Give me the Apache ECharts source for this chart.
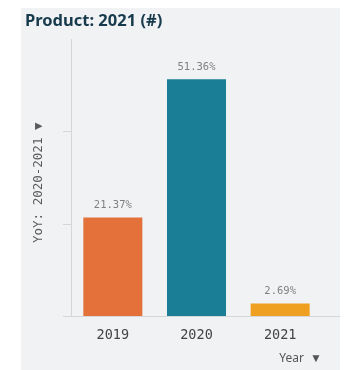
<!DOCTYPE html>
<html>
<head>
<meta charset="utf-8">
<style>
  html, body { margin: 0; padding: 0; background: #ffffff; }
  #chart { width: 345px; height: 370px; }
</style>
<script src="https://cdn.jsdelivr.net/npm/echarts@6/dist/echarts.min.js"></script>
</head>
<body>
<div id="chart"></div>
<script>
// Year-over-year change per year
const years = ['2019', '2020', '2021'];
const yoyValues = [21.37, 51.36, 2.69];
const barColors = ['#e4703a', '#1a7f96', '#f0a020'];
const yTicks = [0, 20, 40];

const chart = echarts.init(document.getElementById('chart'), null, { renderer: 'canvas' });

const mono = '"DejaVu Sans Mono", "Liberation Mono", monospace';

chart.setOption({
  backgroundColor: '#ffffff',
  animation: false,
  graphic: [
    { type: 'rect', z: -10, shape: { x: 21, y: 8, width: 319, height: 362 }, style: { fill: '#f1f2f4' } },
    { type: 'line', z: 1, shape: { x1: 322, y1: 316.5, x2: 340, y2: 316.5 }, style: { stroke: '#d4d6d9', lineWidth: 1 } }
  ],
  title: {
    text: 'Product: 2021 (#)',
    left: 20,
    top: 8,
    textStyle: { fontFamily: '"Noto Sans", sans-serif', fontWeight: 'bold', fontSize: 16.5, color: '#173a4c' }
  },
  grid: { left: 71, right: 23, top: 39.5, bottom: 54 },
  xAxis: {
    type: 'category',
    data: years,
    name: 'Year  ▼',
    nameLocation: 'end',
    nameGap: 0,
    nameTextStyle: {
      fontFamily: '"Noto Sans", sans-serif', fontSize: 12, color: '#555',
      align: 'right', verticalAlign: 'top', padding: [37, 0, 0, 0]
    },
    axisLine: { lineStyle: { color: '#d4d6d9' } },
    axisTick: { show: false },
    axisLabel: { fontFamily: mono, fontSize: 13.5, color: '#444', margin: 12 }
  },
  yAxis: {
    type: 'value',
    min: 0,
    max: 60,
    interval: 20,
    name: 'YoY: 2020-2021 ▼',
    nameLocation: 'middle',
    nameGap: 26,
    nameTextStyle: { fontFamily: mono, fontSize: 12.5, color: '#5a5a5a', padding: [0, 10, 0, 0] },
    axisLine: { show: true, lineStyle: { color: '#d4d6d9' } },
    axisTick: { show: true, length: 8, customValues: yTicks, lineStyle: { color: '#d4d6d9' } },
    axisLabel: { show: false },
    splitLine: { show: false }
  },
  series: [{
    type: 'bar',
    barWidth: 59,
    data: yoyValues.map((v, i) => ({ value: v, itemStyle: { color: barColors[i] } })),
    label: {
      show: true,
      position: 'top',
      distance: 7,
      fontFamily: mono,
      fontSize: 10.5,
      color: '#808080',
      formatter: p => p.value.toFixed(2) + '%'
    }
  }]
});
</script>
</body>
</html>
